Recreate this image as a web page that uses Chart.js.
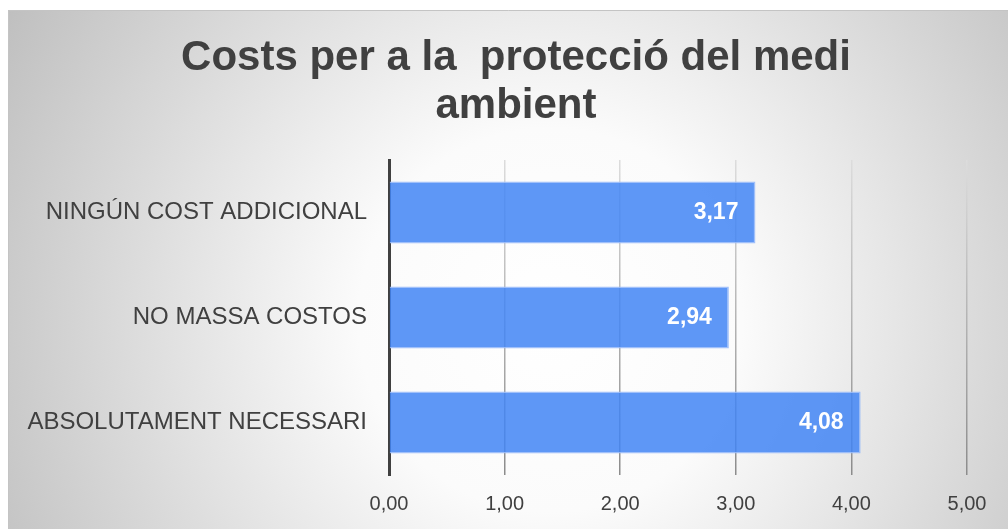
<!DOCTYPE html>
<html>
<head>
<meta charset="utf-8">
<script src="https://cdn.jsdelivr.net/npm/chart.js@4"></script>
<style>
  body { margin: 0; background: #fff; }
  #wrap { width: 1008px; height: 529px; }
</style>
</head>
<body>
<div id="wrap"><canvas id="myChart" width="1008" height="529"></canvas></div>
<script>
const categories = ["NINGÚN COST ADDICIONAL", "NO MASSA COSTOS", "ABSOLUTAMENT NECESSARI"];
const values = [3.17, 2.94, 4.08];
const xMin = 0;
const xMax = 5;
const xStep = 1;
const titleLines = ["Costs per a la  protecció del medi", "ambient"];

const fmt = v => Number(v).toFixed(2).replace(".", ",");

// gray radial backdrop, like the office chart area
const backdrop = {
	id: "backdrop",
	beforeDraw(chart) {
		const c = chart.ctx;
		c.save();
		c.fillStyle = "#ffffff";
		c.fillRect(0, 0, chart.width, chart.height);
		const g = c.createRadialGradient(550, 320, 0, 550, 320, 640);
		g.addColorStop(0, "#ffffff");
		g.addColorStop(0.3, "#fbfbfb");
		g.addColorStop(1, "#bdbdbd");
		c.fillStyle = g;
		c.fillRect(8, 10, chart.width - 8, chart.height - 10);
		c.strokeStyle = "#c4c4c4";
		c.lineWidth = 1;
		c.beginPath();
		c.moveTo(8.5, chart.height);
		c.lineTo(8.5, 10.5);
		c.lineTo(chart.width, 10.5);
		c.stroke();
		c.restore();
	}
};

const titleDraw = {
	id: "titleDraw",
	afterDraw(chart) {
		const c = chart.ctx;
		c.save();
		c.fillStyle = "#404040";
		c.font = "bold 42px 'Liberation Sans', Arial, sans-serif";
		c.textAlign = "center";
		c.textBaseline = "middle";
		c.fillText(titleLines[0], 516, 58);
		c.fillText(titleLines[1], 516, 106);
		c.restore();
	}
};

const valueLabels = {
	id: "valueLabels",
	afterDatasetsDraw(chart) {
		const c = chart.ctx;
		const meta = chart.getDatasetMeta(0);
		c.save();
		c.fillStyle = "#ffffff";
		c.font = "bold 23px 'Liberation Sans', Arial, sans-serif";
		c.textAlign = "right";
		c.textBaseline = "middle";
		meta.data.forEach((bar, i) => {
			c.fillText(fmt(values[i]), bar.x - 17, bar.y);
		});
		c.restore();
	}
};

function gridColor(ctx) {
	const area = ctx.chart.chartArea;
	if (!area) return "#c8c8c8";
	const g = ctx.chart.ctx.createLinearGradient(0, area.top, 0, area.bottom);
	g.addColorStop(0, "#dcdcdc");
	g.addColorStop(1, "#8c8c8c");
	return g;
}

new Chart(document.getElementById("myChart"), {
	type: "bar",
	data: {
		labels: categories,
		datasets: [{
			data: values,
			backgroundColor: "rgba(66,133,244,0.85)",
			borderColor: "rgba(150,185,250,0.9)",
			borderWidth: 1.5,
			barPercentage: 0.59,
			categoryPercentage: 1
		}]
	},
	options: {
		indexAxis: "y",
		responsive: false,
		animation: false,
		layout: { padding: { left: 8, top: 160, right: 41, bottom: 0 } },
		plugins: {
			legend: { display: false },
			title: { display: false },
			tooltip: { enabled: false }
		},
		scales: {
			y: {
				afterFit(s) { s.width = 381; },
				grid: { display: false },
				border: { color: "#404040", width: 3 },
				ticks: {
					color: "#404040",
					padding: 14,
					font: { family: "'Liberation Sans', Arial, sans-serif", size: 24 }
				}
			},
			x: {
				min: xMin,
				max: xMax,
				afterFit(s) { s.height = 54; },
				border: { display: false },
				grid: { color: gridColor, lineWidth: 1.5, drawTicks: false },
				ticks: {
					stepSize: xStep,
					color: "#404040",
					padding: 17,
					font: { family: "'Liberation Sans', Arial, sans-serif", size: 20 },
					callback: v => fmt(v)
				}
			}
		}
	},
	plugins: [backdrop, titleDraw, valueLabels]
});
</script>
</body>
</html>
